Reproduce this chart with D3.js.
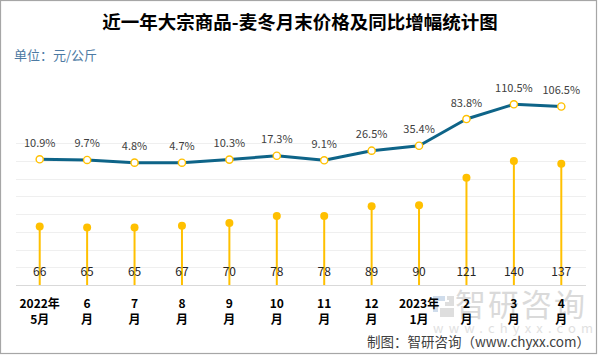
<!DOCTYPE html>
<html><head><meta charset="utf-8">
<script src="https://cdn.jsdelivr.net/npm/d3@7"></script>
<style>html,body{margin:0;padding:0;background:#fff;}svg{display:block;font-family:"Noto Sans CJK SC","Noto Sans",sans-serif;}</style>
</head><body>
<svg id="c" width="601" height="355"></svg>
<script>
const monthLine1 = ["2022年","6","7","8","9","10","11","12","2023年","2","3","4"];
const monthLine2 = ["5月","月","月","月","月","月","月","月","1月","月","月","月"];
const prices = [66,65,65,67,70,78,78,89,90,121,140,137];
const yoy = [10.9,9.7,4.8,4.7,10.3,17.3,9.1,26.5,35.4,83.8,110.5,106.5];
const priceTicks = [0,20,40,60,80,100,120,140,160];

const svg = d3.select("#c");
const idx = d3.range(prices.length);
const x = d3.scaleBand().domain(idx).range([16,585]);
const cx = i => x(i) + x.bandwidth()/2;
const yBar = d3.scaleLinear().domain([0,160]).range([285,143.3]);
const yLine = d3.scaleLinear().domain([-200,120]).range([275.7,99.06]);

svg.append("rect").attr("x",0.5).attr("y",0.5).attr("width",596).attr("height",353)
  .attr("fill","#fff").attr("stroke","#a6a6a6").attr("stroke-width",1.2);

// title
svg.append("text").attr("x",300).attr("y",29).attr("text-anchor","middle")
  .attr("font-size",18.5).attr("font-weight","bold").attr("fill","#000")
  .text("近一年大宗商品-麦冬月末价格及同比增幅统计图");
svg.append("text").attr("x",14).attr("y",60).attr("font-size",13).attr("fill","#4d7aa3")
  .text("单位：元/公斤");

// grid
svg.append("g").selectAll("line").data(priceTicks.slice(1)).join("line")
  .attr("x1",16).attr("x2",586).attr("y1",d=>Math.round(yBar(d))+0.5).attr("y2",d=>Math.round(yBar(d))+0.5)
  .attr("stroke","#efefef").attr("stroke-width",1);

// watermark
const wm = svg.append("g").attr("opacity",0.55);
wm.append("path").attr("d","M433,296 h12 v5 h-7 v11 h-5 z").attr("fill","#a9c1dc");
wm.append("path").attr("d","M447,296 h7 v10 h-9 v-4 h4 v-2 h-2 z M440,308 h14 v9 h-14 z").attr("fill","#c4c4c4");
wm.append("text").attr("x",455).attr("y",316).attr("font-size",31).attr("fill","#bdbdbd")
  .attr("letter-spacing",2).text("智研咨询");
wm.append("text").attr("x",433).attr("y",333).attr("font-size",13).attr("fill","#c8c8c8")
  .attr("letter-spacing",5.2).text("www.chyxx.com");

// axis baseline
svg.append("line").attr("x1",16).attr("x2",586).attr("y1",285.5).attr("y2",285.5)
  .attr("stroke","#d9d9d9").attr("stroke-width",1.2);

// lollipops
const bars = svg.append("g");
bars.selectAll("line").data(idx).join("line")
  .attr("x1",cx).attr("x2",cx).attr("y1",yBar(0)).attr("y2",i=>yBar(prices[i]))
  .attr("stroke","#FFC000").attr("stroke-width",2);
bars.selectAll("circle").data(idx).join("circle")
  .attr("cx",cx).attr("cy",i=>yBar(prices[i])).attr("r",4).attr("fill","#FFC000");
svg.append("g").selectAll("text").data(idx).join("text")
  .attr("x",cx).attr("y",276).attr("text-anchor","middle").attr("font-size",12).attr("fill","#262626")
  .text(i=>prices[i]);

// line
svg.append("path").datum(idx)
  .attr("d", d3.line().x(cx).y(i=>yLine(yoy[i])))
  .attr("fill","none").attr("stroke","#0e6488").attr("stroke-width",3).attr("stroke-linejoin","round");
svg.append("g").selectAll("circle").data(idx).join("circle")
  .attr("cx",cx).attr("cy",i=>yLine(yoy[i])).attr("r",3.6)
  .attr("fill","#fff").attr("stroke","#FFC000").attr("stroke-width",1.4);
svg.append("g").selectAll("text").data(idx).join("text")
  .attr("x",cx).attr("y",i=>yLine(yoy[i])-12.5).attr("text-anchor","middle")
  .attr("font-size",11).attr("fill","#404040").text(i=>yoy[i].toFixed(1)+"%");

// x labels
const xl = svg.append("g").attr("font-size",12).attr("font-weight","bold").attr("fill","#000").attr("text-anchor","middle");
xl.selectAll("text.l1").data(idx).join("text").attr("class","l1").attr("x",cx).attr("y",307.5).text(i=>monthLine1[i]);
xl.selectAll("text.l2").data(idx).join("text").attr("class","l2").attr("x",cx).attr("y",324).text(i=>monthLine2[i]);

// footer
svg.append("text").attr("x",590).attr("y",346.5).attr("text-anchor","end").attr("font-size",13.5).attr("fill","#404040")
  .text("制图：智研咨询（www.chyxx.com）");
</script>
</body></html>
